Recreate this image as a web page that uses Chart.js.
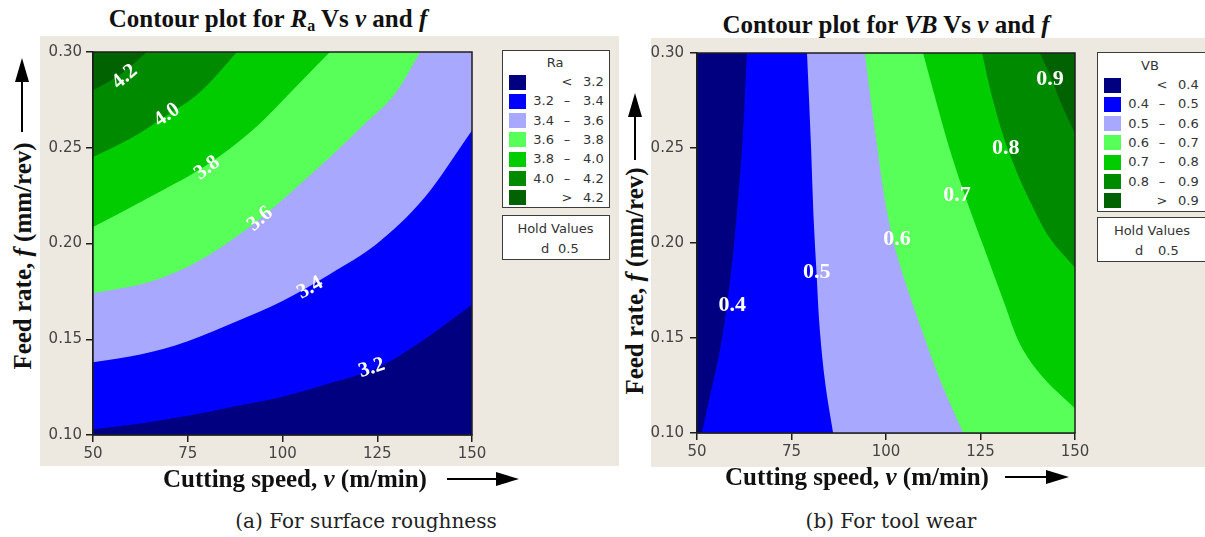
<!DOCTYPE html>
<html>
<head>
<meta charset="utf-8">
<script src="https://cdn.jsdelivr.net/npm/chart.js@4.4.1/dist/chart.umd.min.js"></script>
<style>
  html, body { margin: 0; padding: 0; background: #fff; }
  body { width: 1205px; height: 537px; position: relative; overflow: hidden; }
  .panel { position: absolute; background: #ede9e0; }
  canvas { position: absolute; }
  .serif { position: absolute; font-family: 'Liberation Serif', serif; font-weight: bold; font-size: 25px;
           color: #111; white-space: nowrap; transform: translate(-50%, -50%); line-height: 1; }
  .serif sub { font-size: 16px; vertical-align: -4px; }
  .ytitle { transform: translate(-50%, -50%) rotate(-90deg); }
  .caption { position: absolute; font-family: 'DejaVu Serif', serif; font-size: 20px; color: #222;
             white-space: nowrap; transform: translate(-50%, -50%); }
  .legend, .hold { position: absolute; background: #fff; border: 1.5px solid #3c3c3c; box-sizing: border-box;
                   font-family: 'DejaVu Sans', sans-serif; font-size: 13px; color: #333; }
  .legend div, .hold div { position: absolute; white-space: nowrap; line-height: 14px; }
  .sw { width: 17px; height: 15px; }
  svg { position: absolute; left: 0; top: 0; }
</style>
</head>
<body>
<div class="panel" style="left:40px;top:36px;width:579px;height:430px"></div>
<div class="panel" style="left:651px;top:38px;width:554px;height:429px"></div>

<canvas id="raChart" width="460" height="430" style="left:40px;top:36px"></canvas>
<canvas id="vbChart" width="446" height="429" style="left:651px;top:38px"></canvas>

<div class="serif" style="left:268px;top:20px">Contour plot for <i>R</i><sub>a</sub> Vs <i>v</i> and <i>f</i></div>
<div class="serif" style="left:886px;top:24px">Contour plot for <i>VB</i> Vs <i>v</i> and <i>f</i></div>
<div class="serif ytitle" style="left:22px;top:256px">Feed rate, <i>f</i> (mm/rev)</div>
<div class="serif ytitle" style="left:634px;top:281px">Feed rate, <i>f</i> (mm/rev)</div>
<div class="serif" style="left:295px;top:478px">Cutting speed, <i>v</i> (m/min)</div>
<div class="serif" style="left:857px;top:476px">Cutting speed, <i>v</i> (m/min)</div>
<div class="caption" style="left:366px;top:521px">(a) For surface roughness</div>
<div class="caption" style="left:891px;top:521px">(b) For tool wear</div>

<div class="legend" id="raLegend" style="left:502px;top:50px;width:108px;height:158px"></div>
<div class="hold" style="left:502px;top:215px;width:108px;height:45px">
  <div style="left:0;width:105px;text-align:center;top:6px">Hold Values</div>
  <div style="left:38px;top:26px">d</div><div style="left:55px;top:26px">0.5</div>
</div>
<div class="legend" id="vbLegend" style="left:1097px;top:52px;width:110px;height:160px"></div>
<div class="hold" style="left:1097px;top:217px;width:110px;height:45px">
  <div style="left:0;width:108px;text-align:center;top:6px">Hold Values</div>
  <div style="left:37px;top:26px">d</div><div style="left:60px;top:26px">0.5</div>
</div>

<svg width="1205" height="537">
  <g fill="#000" stroke="#000" stroke-width="2">
    <line x1="22" y1="132" x2="22" y2="78"/><polygon points="22,58 15,82 29,82" stroke="none"/>
    <line x1="635" y1="160" x2="635" y2="112"/><polygon points="635,93 628,117 642,117" stroke="none"/>
    <line x1="447" y1="479" x2="500" y2="479"/><polygon points="519,479 496,472 496,486" stroke="none"/>
    <line x1="1005" y1="477" x2="1050" y2="477"/><polygon points="1069,477 1046,470 1046,484" stroke="none"/>
  </g>
</svg>

<script>
// axis ranges
const speedMin = 50, speedMax = 150, speedStep = 25;
const feedMin = 0.10, feedMax = 0.30, feedStep = 0.05;

// contour levels
const raLevels = [3.2, 3.4, 3.6, 3.8, 4.0, 4.2];
const vbLevels = [0.4, 0.5, 0.6, 0.7, 0.8, 0.9];

// Ra contour lines, [speed, feed]
const ra32 = [[50, 0.103], [62.5, 0.106], [75, 0.110], [87.5, 0.115], [100, 0.120], [112.5, 0.127], [125, 0.135], [137.5, 0.150], [150, 0.168]];
const ra34 = [[50, 0.138], [62.5, 0.142], [75, 0.149], [87.5, 0.159], [100, 0.170], [112.5, 0.184], [125, 0.200], [137.5, 0.224], [150, 0.259]];
const ra36 = [[50, 0.174], [65, 0.180], [78, 0.191], [93.5, 0.212], [104.6, 0.231], [113, 0.246], [122, 0.263], [130, 0.279], [136.3, 0.300]];
const ra38 = [[50, 0.2086], [65, 0.2243], [80, 0.241], [92, 0.259], [104.6, 0.284], [112.5, 0.300]];
const ra40 = [[50, 0.2452], [60, 0.255], [69.5, 0.267], [78.2, 0.279], [88, 0.300]];
const ra42 = [[50, 0.280], [57, 0.288], [64.2, 0.300]];

// VB contour lines, [speed, feed], from the lower/right end up to the top
const vb04 = [[51.3, 0.10], [53.5, 0.12], [56.1, 0.144], [57.9, 0.167], [59.6, 0.195], [60.8, 0.222], [61.9, 0.249], [63.2, 0.30]];
const vb05 = [[86.0, 0.10], [84.0, 0.125], [82.5, 0.154], [81.6, 0.185], [80.8, 0.215], [80.2, 0.249], [79.1, 0.30]];
const vb06 = [[120.4, 0.10], [114.5, 0.127], [109.5, 0.154], [105, 0.180], [101.9, 0.201], [99.5, 0.225], [97.8, 0.249], [96, 0.275], [94.4, 0.30]];
const vb07 = [[150, 0.113], [142.1, 0.128], [136.2, 0.144], [131.0, 0.170], [126.2, 0.196], [121.4, 0.222], [116.9, 0.249], [113.2, 0.275], [109.8, 0.30]];
const vb08 = [[150, 0.187], [143.9, 0.201], [138.1, 0.222], [132.3, 0.249], [128.3, 0.275], [125.4, 0.30]];
const vb09 = [[150, 0.2575], [146.0, 0.275], [143.5, 0.288], [140.7, 0.30]];

// contour label anchors
const raLabelSpeed = [123.6, 107.3, 94.1, 80.1, 69.5, 58.4];
const raLabelFeed = [0.135, 0.1768, 0.2128, 0.2394, 0.2671, 0.287];
const vbLabelSpeed = [59.3, 81.7, 102.9, 118.8, 131.7, 143.4];
const vbLabelFeed = [0.1672, 0.1845, 0.2018, 0.225, 0.2496, 0.2864];

const raLines = [ra32, ra34, ra36, ra38, ra40, ra42];
const vbLines = [vb04, vb05, vb06, vb07, vb08, vb09];

const bandColors = ['#000080', '#0000ff', '#a8a8ff', '#58ff58', '#00cc00', '#008a00', '#006200'];

Chart.defaults.font.family = "'DejaVu Sans', sans-serif";

const toXY = (pts) => pts.map(([v, f]) => ({x: v, y: f}));

// lowest band as plot background, plus the frame
const plotFrame = {
    id: 'plotFrame',
    beforeDatasetsDraw(chart) {
        const {ctx, chartArea: a} = chart;
        ctx.save();
        ctx.fillStyle = bandColors[0];
        ctx.fillRect(a.left, a.top, a.width, a.height);
        ctx.restore();
    },
    afterDatasetsDraw(chart) {
        const {ctx, chartArea: a} = chart;
        ctx.save();
        ctx.strokeStyle = '#1e1e1e';
        ctx.lineWidth = 1.5;
        ctx.strokeRect(a.left, a.top, a.width, a.height);
        ctx.restore();
    }
};

const labelPlugin = (levels, speeds, feeds, lines, rotate, font) => ({
    id: 'contourLabels',
    afterDatasetsDraw(chart) {
        const {ctx, scales: {x, y}} = chart;
        ctx.save();
        ctx.font = font;
        ctx.fillStyle = '#ffffff';
        ctx.textAlign = 'center';
        ctx.textBaseline = 'middle';
        levels.forEach((lv, i) => {
            const px = x.getPixelForValue(speeds[i]);
            const py = y.getPixelForValue(feeds[i]);
            let ang = 0;
            if (rotate) {
                const pts = lines[i].map(([v, f]) => [x.getPixelForValue(v), y.getPixelForValue(f)]);
                let best = Infinity;
                for (let k = 0; k < pts.length - 1; k++) {
                    const mx = (pts[k][0] + pts[k + 1][0]) / 2, my = (pts[k][1] + pts[k + 1][1]) / 2;
                    const d = Math.hypot(mx - px, my - py);
                    if (d < best) {
                        best = d;
                        ang = Math.atan2(pts[k + 1][1] - pts[k][1], pts[k + 1][0] - pts[k][0]);
                    }
                }
            }
            ctx.save();
            ctx.translate(px, py);
            ctx.rotate(ang);
            ctx.fillText(lv.toFixed(1), 0, 0);
            ctx.restore();
        });
        ctx.restore();
    }
});

const scaleOptions = (yWidth, xHeight, yPad) => ({
    x: {
        type: 'linear', min: speedMin, max: speedMax,
        ticks: {stepSize: speedStep, color: '#444', font: {size: 15}, padding: 3, maxRotation: 0},
        grid: {drawOnChartArea: false, tickLength: 7, color: '#1e1e1e', lineWidth: 1.5},
        border: {display: true, color: '#1e1e1e', width: 1.5},
        afterFit: (s) => { s.height = xHeight; }
    },
    y: {
        type: 'linear', min: feedMin, max: feedMax,
        ticks: {stepSize: feedStep, color: '#444', font: {size: 15}, padding: yPad,
                callback: (v) => Number(v).toFixed(2)},
        grid: {drawOnChartArea: false, tickLength: 7, color: '#1e1e1e', lineWidth: 1.5},
        border: {display: true, color: '#1e1e1e', width: 1.5},
        afterFit: (s) => { s.width = yWidth; }
    }
});

const baseOptions = (padRight, padTop, yWidth, xHeight, yPad) => ({
    responsive: false,
    animation: false,
    layout: {padding: {left: 0, right: padRight, top: padTop, bottom: 0}},
    plugins: {legend: {display: false}, tooltip: {enabled: false}},
    elements: {point: {radius: 0}},
    scales: scaleOptions(yWidth, xHeight, yPad)
});

// (a) surface roughness: each level fills from its line up to the top
new Chart(document.getElementById('raChart'), {
    type: 'line',
    data: {
        datasets: raLines.map((pts, i) => ({
            label: 'Ra ' + raLevels[i],
            data: toXY(pts),
            fill: 'end',
            backgroundColor: bandColors[i + 1],
            borderColor: 'rgba(0,0,0,0)',
            borderWidth: 0,
            cubicInterpolationMode: 'monotone',
            order: raLines.length - i
        }))
    },
    options: baseOptions(28, 16, 53, 31, 4),
    plugins: [plotFrame, labelPlugin(raLevels, raLabelSpeed, raLabelFeed, raLines, true, 'bold 21px "Liberation Serif"')]
});

// (b) tool wear: feed is the index axis, each level fills from its line right to the max speed
const vbOptions = baseOptions(22, 14, 46, 34, 6);
vbOptions.indexAxis = 'y';
new Chart(document.getElementById('vbChart'), {
    type: 'line',
    data: {
        datasets: vbLines.map((pts, i) => ({
            label: 'VB ' + vbLevels[i],
            data: toXY(pts),
            fill: {value: speedMax},
            backgroundColor: bandColors[i + 1],
            borderColor: 'rgba(0,0,0,0)',
            borderWidth: 0,
            cubicInterpolationMode: 'monotone',
            order: vbLines.length - i
        }))
    },
    options: vbOptions,
    plugins: [plotFrame, labelPlugin(vbLevels, vbLabelSpeed, vbLabelFeed, vbLines, false, 'bold 22px "Liberation Serif"')]
});

// legends
function buildLegend(id, header, levels, rowTop) {
    const box = document.getElementById(id);
    const put = (html, style) => {
        const d = document.createElement('div');
        d.innerHTML = html;
        Object.assign(d.style, style);
        box.appendChild(d);
    };
    put(header, {left: '0', width: '104px', textAlign: 'center', top: (rowTop - 26) + 'px'});
    const txt = (v) => v.toFixed(1);
    for (let i = 0; i <= levels.length; i++) {
        const top = rowTop + i * 19.3 - 7;
        const sw = document.createElement('div');
        sw.className = 'sw';
        Object.assign(sw.style, {left: '6px', top: (top - 0.5) + 'px', background: bandColors[i]});
        box.appendChild(sw);
        let lo = '', mid = '', hi = '';
        if (i === 0) { mid = '&lt;'; hi = txt(levels[0]); }
        else if (i === levels.length) { mid = '&gt;'; hi = txt(levels[i - 1]); }
        else { lo = txt(levels[i - 1]); mid = '–'; hi = txt(levels[i]); }
        put(lo, {left: '20px', width: '31px', textAlign: 'right', top: top + 'px'});
        put(mid, {left: '57px', width: '14px', textAlign: 'center', top: top + 'px'});
        put(hi, {left: '80px', top: top + 'px'});
    }
}
buildLegend('raLegend', 'Ra', raLevels, 31);
buildLegend('vbLegend', 'VB', vbLevels, 32);
</script>
</body>
</html>
